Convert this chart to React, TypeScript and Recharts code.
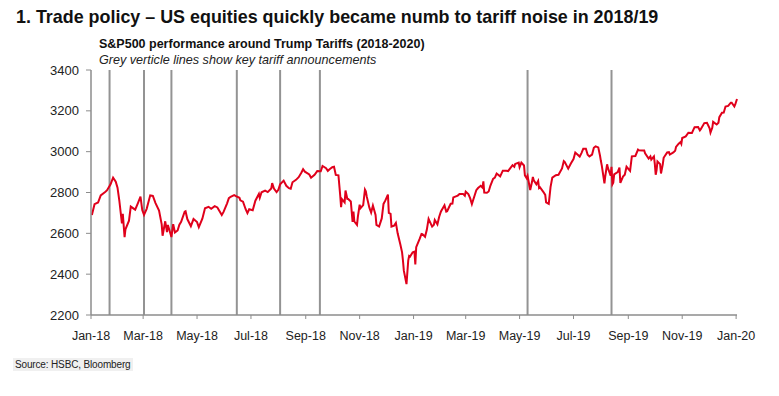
import { LineChart, Line, XAxis, YAxis, ReferenceLine } from 'recharts'

// S&P500 closes (approx) – 2018
const dates2018 = [
  '2018-01-02', '2018-01-05', '2018-01-09', '2018-01-12', '2018-01-17', '2018-01-19', '2018-01-23', '2018-01-26',
  '2018-01-29', '2018-01-31', '2018-02-02', '2018-02-05', '2018-02-06', '2018-02-08', '2018-02-09', '2018-02-13',
  '2018-02-15', '2018-02-20', '2018-02-23', '2018-02-26', '2018-02-28', '2018-03-02', '2018-03-05', '2018-03-09',
  '2018-03-12', '2018-03-15', '2018-03-19', '2018-03-22', '2018-03-23', '2018-03-26', '2018-03-28', '2018-03-29',
  '2018-04-02', '2018-04-04', '2018-04-06', '2018-04-09', '2018-04-11', '2018-04-13', '2018-04-17', '2018-04-18',
  '2018-04-20', '2018-04-24', '2018-04-27', '2018-05-01', '2018-05-03', '2018-05-07', '2018-05-10', '2018-05-14',
  '2018-05-17', '2018-05-21', '2018-05-24', '2018-05-29', '2018-05-31', '2018-06-04', '2018-06-06', '2018-06-08',
  '2018-06-12', '2018-06-14', '2018-06-18', '2018-06-19', '2018-06-22', '2018-06-25', '2018-06-27', '2018-06-29',
  '2018-07-03', '2018-07-06', '2018-07-10', '2018-07-11', '2018-07-13', '2018-07-17', '2018-07-20', '2018-07-24',
  '2018-07-25', '2018-07-27', '2018-07-30', '2018-08-01', '2018-08-03', '2018-08-07', '2018-08-10', '2018-08-13',
  '2018-08-15', '2018-08-17', '2018-08-21', '2018-08-24', '2018-08-27', '2018-08-29', '2018-08-31', '2018-09-05',
  '2018-09-07', '2018-09-11', '2018-09-14', '2018-09-18', '2018-09-20', '2018-09-24', '2018-09-26', '2018-09-28',
  '2018-10-01', '2018-10-03', '2018-10-05', '2018-10-08', '2018-10-10', '2018-10-11', '2018-10-12', '2018-10-15',
  '2018-10-16', '2018-10-18', '2018-10-19', '2018-10-22', '2018-10-24', '2018-10-25', '2018-10-26', '2018-10-29',
  '2018-10-30', '2018-11-01', '2018-11-02', '2018-11-05', '2018-11-07', '2018-11-08', '2018-11-09', '2018-11-12',
  '2018-11-14', '2018-11-16', '2018-11-19', '2018-11-20', '2018-11-23', '2018-11-26', '2018-11-28', '2018-11-30',
  '2018-12-03', '2018-12-04', '2018-12-06', '2018-12-07', '2018-12-10', '2018-12-12', '2018-12-14', '2018-12-17',
  '2018-12-19', '2018-12-20', '2018-12-21', '2018-12-24', '2018-12-26', '2018-12-27', '2018-12-28', '2018-12-31',
]
const closes2018 = [
  2690, 2743, 2751, 2786, 2802, 2810, 2839, 2873,
  2853, 2824, 2762, 2649, 2695, 2581, 2620, 2662,
  2731, 2716, 2747, 2780, 2714, 2691, 2720, 2786,
  2783, 2748, 2712, 2644, 2588, 2659, 2606, 2641,
  2582, 2645, 2604, 2614, 2642, 2656, 2706, 2708,
  2670, 2635, 2670, 2655, 2630, 2672, 2723, 2730,
  2720, 2733, 2727, 2690, 2705, 2747, 2772, 2779,
  2787, 2782, 2774, 2762, 2755, 2718, 2699, 2718,
  2713, 2760, 2793, 2774, 2801, 2809, 2802, 2820,
  2846, 2819, 2802, 2813, 2840, 2858, 2833, 2821,
  2818, 2850, 2862, 2875, 2897, 2914, 2902, 2888,
  2872, 2887, 2905, 2904, 2930, 2919, 2906, 2914,
  2924, 2926, 2886, 2884, 2786, 2728, 2767, 2751,
  2810, 2769, 2768, 2756, 2656, 2706, 2658, 2641,
  2682, 2740, 2723, 2738, 2814, 2806, 2781, 2726,
  2702, 2736, 2690, 2641, 2633, 2673, 2744, 2760,
  2790, 2700, 2695, 2633, 2638, 2651, 2600, 2546,
  2507, 2467, 2417, 2351, 2468, 2489, 2486, 2507,
]

// S&P500 closes (approx) – 2019 into early 2020
const dates2019 = [
  '2019-01-02', '2019-01-03', '2019-01-04', '2019-01-08', '2019-01-10', '2019-01-11', '2019-01-14', '2019-01-16',
  '2019-01-18', '2019-01-22', '2019-01-24', '2019-01-25', '2019-01-28', '2019-01-30', '2019-02-01', '2019-02-05',
  '2019-02-07', '2019-02-08', '2019-02-12', '2019-02-14', '2019-02-15', '2019-02-20', '2019-02-22', '2019-02-26',
  '2019-02-28', '2019-03-01', '2019-03-04', '2019-03-06', '2019-03-08', '2019-03-11', '2019-03-13', '2019-03-15',
  '2019-03-18', '2019-03-20', '2019-03-21', '2019-03-22', '2019-03-25', '2019-03-27', '2019-03-29', '2019-04-01',
  '2019-04-03', '2019-04-05', '2019-04-09', '2019-04-12', '2019-04-16', '2019-04-18', '2019-04-23', '2019-04-25',
  '2019-04-26', '2019-04-30', '2019-05-01', '2019-05-03', '2019-05-06', '2019-05-07', '2019-05-09', '2019-05-10',
  '2019-05-13', '2019-05-15', '2019-05-16', '2019-05-17', '2019-05-20', '2019-05-22', '2019-05-23', '2019-05-24',
  '2019-05-28', '2019-05-30', '2019-05-31', '2019-06-03', '2019-06-05', '2019-06-07', '2019-06-11', '2019-06-14',
  '2019-06-18', '2019-06-20', '2019-06-21', '2019-06-25', '2019-06-28', '2019-07-01', '2019-07-03', '2019-07-08',
  '2019-07-10', '2019-07-12', '2019-07-15', '2019-07-17', '2019-07-19', '2019-07-22', '2019-07-24', '2019-07-26',
  '2019-07-29', '2019-07-31', '2019-08-01', '2019-08-02', '2019-08-05', '2019-08-06', '2019-08-08', '2019-08-09',
  '2019-08-12', '2019-08-13', '2019-08-14', '2019-08-15', '2019-08-16', '2019-08-20', '2019-08-22', '2019-08-23',
  '2019-08-26', '2019-08-28', '2019-08-30', '2019-09-03', '2019-09-05', '2019-09-09', '2019-09-12', '2019-09-13',
  '2019-09-17', '2019-09-19', '2019-09-20', '2019-09-24', '2019-09-26', '2019-09-27', '2019-09-30', '2019-10-01',
  '2019-10-02', '2019-10-03', '2019-10-04', '2019-10-07', '2019-10-08', '2019-10-10', '2019-10-11', '2019-10-15',
  '2019-10-17', '2019-10-18', '2019-10-22', '2019-10-24', '2019-10-25', '2019-10-28', '2019-10-30', '2019-10-31',
  '2019-11-01', '2019-11-05', '2019-11-08', '2019-11-12', '2019-11-15', '2019-11-19', '2019-11-21', '2019-11-22',
  '2019-11-26', '2019-11-29', '2019-12-02', '2019-12-03', '2019-12-05', '2019-12-06', '2019-12-10', '2019-12-12',
  '2019-12-13', '2019-12-16', '2019-12-18', '2019-12-20', '2019-12-23', '2019-12-26', '2019-12-27', '2019-12-30',
  '2019-12-31', '2020-01-02',
]
const closes2019 = [
  2510, 2448, 2532, 2574, 2597, 2596, 2583, 2617,
  2671, 2633, 2642, 2665, 2644, 2681, 2707, 2737,
  2706, 2708, 2745, 2746, 2776, 2785, 2793, 2793,
  2784, 2804, 2792, 2772, 2743, 2784, 2811, 2822,
  2833, 2824, 2855, 2800, 2799, 2805, 2834, 2867,
  2873, 2893, 2879, 2907, 2907, 2905, 2934, 2926,
  2940, 2946, 2924, 2946, 2932, 2884, 2870, 2881,
  2812, 2851, 2876, 2860, 2840, 2856, 2822, 2826,
  2802, 2788, 2752, 2744, 2826, 2873, 2885, 2887,
  2918, 2954, 2950, 2917, 2942, 2964, 2996, 2976,
  2993, 3014, 3014, 2985, 2977, 2986, 3019, 3026,
  3021, 2980, 2954, 2932, 2845, 2882, 2938, 2919,
  2883, 2926, 2840, 2848, 2889, 2900, 2922, 2847,
  2878, 2887, 2926, 2906, 2977, 2979, 3010, 3007,
  3006, 3006, 2992, 2966, 2977, 2961, 2977, 2940,
  2887, 2910, 2952, 2939, 2893, 2938, 2970, 2996,
  2998, 2986, 2996, 3004, 3023, 3039, 3047, 3038,
  3067, 3075, 3093, 3092, 3120, 3121, 3104, 3110,
  3140, 3141, 3114, 3093, 3117, 3146, 3133, 3142,
  3169, 3191, 3192, 3221, 3224, 3240, 3240, 3221,
  3231, 3258,
]

// key tariff announcements (grey verticals)
const tariffDates = [
  '2018-01-22', '2018-03-02', '2018-04-02', '2018-06-15', '2018-08-03',
  '2018-09-17', '2019-05-10', '2019-08-13',
]

const xTickDates = [
  '2018-01-01', '2018-03-01', '2018-05-01', '2018-07-01', '2018-09-01', '2018-11-01', '2019-01-01',
  '2019-03-01', '2019-05-01', '2019-07-01', '2019-09-01', '2019-11-01', '2020-01-01',
]
const xTickLabels = [
  'Jan-18', 'Mar-18', 'May-18', 'Jul-18', 'Sep-18', 'Nov-18', 'Jan-19',
  'Mar-19', 'May-19', 'Jul-19', 'Sep-19', 'Nov-19', 'Jan-20',
]
const yTicks = [2200, 2400, 2600, 2800, 3000, 3200, 3400]

const DAY = 86400000
const START = Date.UTC(2018, 0, 1)
const toDay = (s: string) => {
  const [y, m, d] = s.split('-').map(Number)
  return Math.round((Date.UTC(y, m - 1, d) - START) / DAY)
}

const allCloses = [...closes2018, ...closes2019]
const data = [...dates2018, ...dates2019].map((d, i) => ({
  day: toDay(d),
  value: allCloses[i],
}))
const xTicks = xTickDates.map(toDay)
const labelByDay: Record<number, string> = {}
xTicks.forEach((t, i) => {
  labelByDay[t] = xTickLabels[i]
})

const FONT = '"Liberation Sans", Arial, sans-serif'
const RED = '#e0001b'
const AXIS = '#8c8c8c'

export default function App() {
  return (
    <div
      style={{
        position: 'absolute',
        left: 0,
        top: 0,
        width: 779,
        height: 396,
        background: '#fff',
        fontFamily: FONT,
        color: '#111',
      }}
    >
      <div style={{ position: 'absolute', left: 16, top: 7, fontSize: 17.9, fontWeight: 700, whiteSpace: 'nowrap' }}>
        1. Trade policy – US equities quickly became numb to tariff noise in 2018/19
      </div>
      <div style={{ position: 'absolute', left: 99, top: 37, fontSize: 12.5, fontWeight: 700, whiteSpace: 'nowrap' }}>
        S&amp;P500 performance around Trump Tariffs (2018-2020)
      </div>
      <div
        style={{
          position: 'absolute',
          left: 99,
          top: 53,
          fontSize: 12.6,
          fontStyle: 'italic',
          color: '#222',
          whiteSpace: 'nowrap',
        }}
      >
        Grey verticle lines show key tariff announcements
      </div>
      <div
        style={{
          position: 'absolute',
          left: 13,
          top: 358,
          padding: '1px 2px',
          fontSize: 10,
          letterSpacing: -0.15,
          background: '#f0f0f0',
          color: '#222',
          whiteSpace: 'nowrap',
        }}
      >
        Source: HSBC, Bloomberg
      </div>
      <LineChart
        width={779}
        height={396}
        data={data}
        margin={{ top: 70, right: 42, bottom: 51, left: 31 }}
        style={{ position: 'absolute', left: 0, top: 0 }}
      >
        <XAxis
          dataKey="day"
          type="number"
          domain={[xTicks[0], xTicks[xTicks.length - 1]]}
          ticks={xTicks}
          interval={0}
          tickFormatter={(v: number) => labelByDay[v] ?? ''}
          axisLine={{ stroke: AXIS, strokeWidth: 1.5 }}
          tickLine={{ stroke: AXIS }}
          tickSize={4}
          tickMargin={12}
          tick={{ fill: '#222', fontSize: 12.5, fontFamily: FONT }}
          height={30}
        />
        <YAxis
          type="number"
          domain={[2200, 3400]}
          ticks={yTicks}
          interval={0}
          axisLine={{ stroke: AXIS, strokeWidth: 1.5 }}
          tickLine={{ stroke: AXIS }}
          tickSize={5}
          tickMargin={7}
          tick={{ fill: '#222', fontSize: 13, fontFamily: FONT }}
          width={60}
        />
        {tariffDates.map((d) => (
          <ReferenceLine key={d} x={toDay(d)} stroke="#939393" strokeWidth={2} />
        ))}
        <Line
          type="linear"
          dataKey="value"
          stroke={RED}
          strokeWidth={2}
          dot={false}
          isAnimationActive={false}
        />
      </LineChart>
    </div>
  )
}
